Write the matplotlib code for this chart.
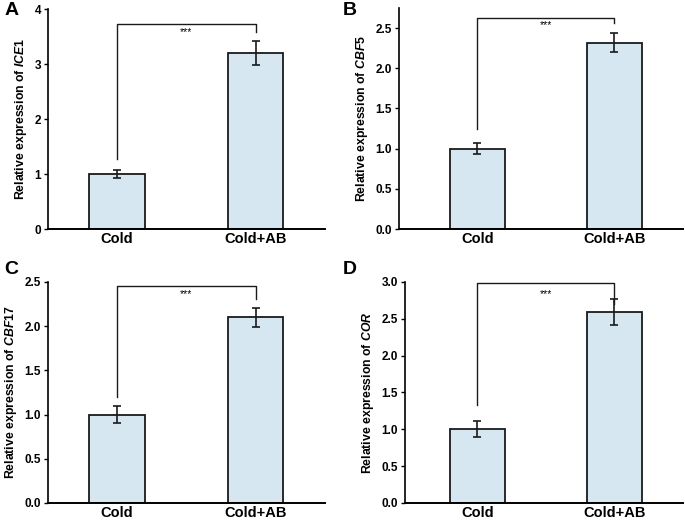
import matplotlib
matplotlib.use("Agg")
from matplotlib import pyplot as plt

plt.rcParams["font.family"] = ["Liberation Sans", "DejaVu Sans"]
plt.rcParams["mathtext.fontset"] = "custom"
plt.rcParams["mathtext.it"] = "Liberation Sans:italic:bold"
plt.rcParams["mathtext.rm"] = "Liberation Sans:bold"

groups = ["Cold", "Cold+AB"]
genes = ["ICE1", "CBF5", "CBF17", "COR"]
letters = ["A", "B", "C", "D"]
means = [[1.0, 3.2], [1.0, 2.32], [1.0, 2.1], [1.0, 2.59]]
errs = [[0.08, 0.22], [0.07, 0.12], [0.10, 0.11], [0.11, 0.18]]
ytops = [4, 2.75, 2.5, 3.0]
yticks = [[0, 1, 2, 3, 4], [0, 0.5, 1.0, 1.5, 2.0, 2.5],
          [0, 0.5, 1.0, 1.5, 2.0, 2.5], [0, 0.5, 1.0, 1.5, 2.0, 2.5, 3.0]]
tickfmt = ["{:.0f}", "{:.1f}", "{:.1f}", "{:.1f}"]
# bracket: top, left leg end, right leg end, star height
brackets = [[3.73, 1.27, 3.59, 3.58], [2.63, 1.25, 2.56, 2.54],
            [2.45, 1.20, 2.31, 2.36], [2.98, 1.33, 2.70, 2.84]]
xleft = [-0.5, -0.57, -0.5, -0.53]

boxes = [[0.070, 0.5596, 0.404, 0.423],
         [0.5825, 0.5596, 0.4146, 0.425],
         [0.070, 0.0327, 0.404, 0.425],
         [0.591, 0.0327, 0.4058, 0.425]]
letter_pos = [(0.006, 0.997), (0.500, 0.997), (0.006, 0.499), (0.500, 0.499)]

fig = plt.figure(figsize=(6.85, 5.2), dpi=100)
barc = "#d7e7f2"

for i in range(4):
    ax = fig.add_axes(boxes[i])
    x = [0, 1]
    ax.bar(x, means[i], width=0.4, color=barc, edgecolor="#1a1a1a", linewidth=1.3, zorder=2)
    ax.errorbar(x, means[i], yerr=errs[i], fmt="none", ecolor="#1a1a1a",
                elinewidth=1.2, capsize=3, capthick=1.2, zorder=3)
    top, lleg, rleg, sy = brackets[i]
    ax.plot([0, 0, 1, 1], [lleg, top, top, rleg], color="#1a1a1a", lw=1.0, zorder=3)
    ax.text(0.5, sy, "***", ha="center", va="center", fontsize=7.5)

    ax.set_xlim(xleft[i], 1.5)
    ax.set_ylim(0, ytops[i])
    ax.set_yticks(yticks[i])
    ax.set_yticklabels([tickfmt[i].format(v) for v in yticks[i]],
                       fontsize=8.5, fontweight="bold")
    ax.set_xticks(x)
    ax.set_xticklabels(groups, fontsize=10.5, fontweight="bold")
    ax.tick_params(axis="x", length=0, pad=2)
    ax.tick_params(axis="y", length=3, width=1.0, direction="out", pad=2)
    for s in ["top", "right"]:
        ax.spines[s].set_visible(False)
    ax.spines["left"].set_linewidth(1.2)
    ax.spines["bottom"].set_linewidth(1.4)
    ax.set_ylabel("Relative expression of $\\it{" + genes[i] + "}$",
                  fontsize=8.8, fontweight="bold", labelpad=4)
    fig.text(letter_pos[i][0], letter_pos[i][1], letters[i], fontsize=14,
             fontweight="bold", va="top", ha="left")

fig.savefig("out.png", dpi=100)
